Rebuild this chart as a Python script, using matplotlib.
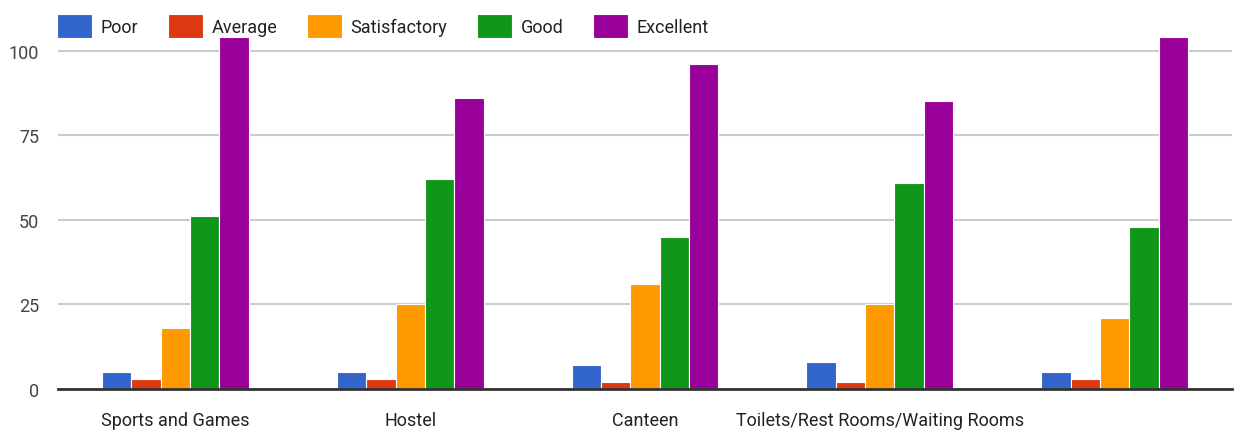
import matplotlib
matplotlib.use("Agg")
import matplotlib.pyplot as plt
import numpy as np

categories = ["Sports and Games", "Hostel", "Canteen",
              "Toilets/Rest Rooms/Waiting Rooms", ""]
series_names = ["Poor", "Average", "Satisfactory", "Good", "Excellent"]
poor = [5, 5, 7, 8, 5]
average = [3, 3, 2, 2, 3]
satisfactory = [18, 25, 31, 25, 21]
good = [51, 62, 45, 61, 48]
excellent = [104, 86, 96, 85, 104]
yticks = [0, 25, 50, 75, 100]

colors = ["#3366cc", "#dc3912", "#ff9900", "#109618", "#990099"]

plt.rcParams['font.family'] = ['Roboto', 'DejaVu Sans']

fig = plt.figure(figsize=(12.35, 4.35), dpi=100)
ax = fig.add_axes([58/1235, 45/435, 1174/1235, 352/435])

series = [poor, average, satisfactory, good, excellent]
x = np.arange(len(categories))
w = 0.125
handles = []
for i, (name, vals) in enumerate(zip(series_names, series)):
    b = ax.bar(x + (i - 2) * w, vals, width=w, color=colors[i],
               edgecolor="white", linewidth=0.8, label=name, zorder=3)
    handles.append(b)

ax.set_xlim(-0.5, len(categories) - 0.5)
ax.set_ylim(0, 104)
ax.set_yticks(yticks)
ax.set_yticklabels([str(t) for t in yticks])
ax.set_xticks(x)
ax.set_xticklabels(categories)
ax.tick_params(axis='y', length=0, pad=13.5, labelsize=13, labelcolor="#444444")
ax.tick_params(axis='x', length=0, pad=16, labelsize=13, labelcolor="#222222")
ax.grid(axis='y', color="#cccccc", linewidth=1.5, zorder=0)
ax.set_axisbelow(True)
for s in ["top", "right", "left"]:
    ax.spines[s].set_visible(False)
ax.spines["bottom"].set_color("#333333")
ax.spines["bottom"].set_linewidth(2)
ax.spines["bottom"].set_zorder(4)

leg = fig.legend(handles=handles, labels=series_names, loc="center left",
                 bbox_to_anchor=(57/1235, 1 - 27/435), ncol=5, frameon=False,
                 fontsize=13, handlelength=1.95, handleheight=1.6,
                 handletextpad=0.45, columnspacing=1.66, borderaxespad=0,
                 borderpad=0)
for t in leg.get_texts():
    t.set_color("#222222")

fig.savefig("out.png", dpi=100)
